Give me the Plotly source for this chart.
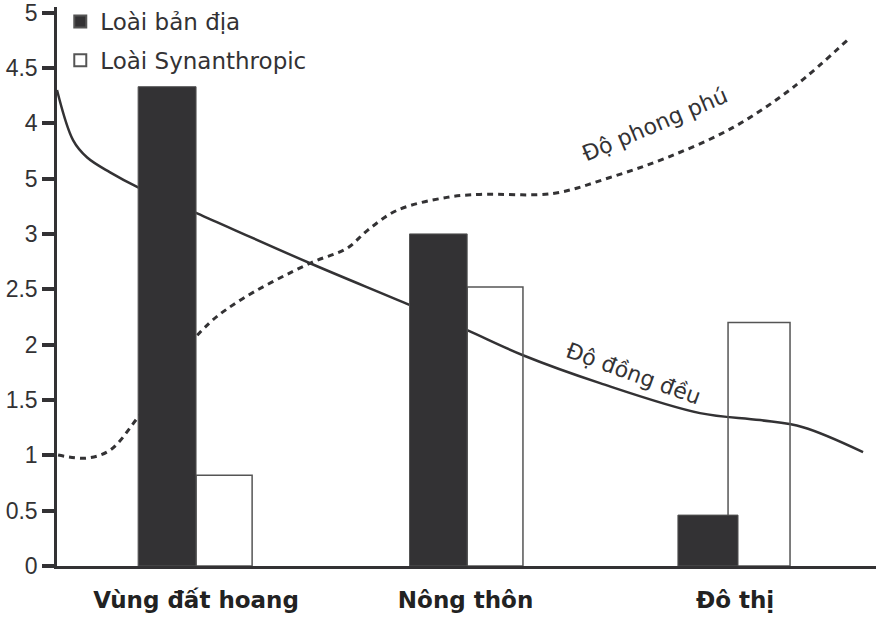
import plotly.graph_objects as go

# categories (numeric positions 0,1,2 on the x axis)
categories = ['Vùng đất hoang', 'Nông thôn', 'Đô thị']
cat_pos = [0, 1, 2]
native = [4.33, 3.0, 0.46]
synanthropic = [0.82, 2.52, 2.2]

# curves
evenness_x = [-0.516, -0.456, -0.404, -0.319, -0.215, 0.004, 0.423, 0.794,
              1.006, 1.213, 1.499, 1.870, 2.093, 2.252, 2.475]
evenness_y = [4.30, 3.845, 3.69, 3.556, 3.42, 3.186, 2.735, 2.356,
              2.13, 1.904, 1.652, 1.381, 1.318, 1.254, 1.029]

richness_x = [-0.512, -0.404, -0.319, -0.215, 0.015, 0.152, 0.423, 0.560, 0.635,
              0.746, 0.931, 1.054, 1.325, 1.536, 1.748, 1.993, 2.215, 2.427]
richness_y = [1.002, 0.975, 1.047, 1.345, 2.112, 2.383, 2.735, 2.87, 3.03,
              3.213, 3.33, 3.357, 3.366, 3.51, 3.69, 3.962, 4.323, 4.774]

tick_vals = [0, 0.5, 1, 1.5, 2, 2.5, 3, 3.5, 4, 4.5, 5]
# the original prints "5" at 3.5 as well
tick_text = ['0', '0.5', '1', '1.5', '2', '2.5', '3', '5', '4', '4.5', '5']

dark = '#333234'
font = 'Liberation Sans, Arial, sans-serif'
wide = 'DejaVu Sans, sans-serif'
xr = [-0.516, 2.523]
yr = [0, 5.05]

fig = go.Figure()

# lines go on the base axes, bars on an overlay so the dark bars cover them
fig.add_trace(go.Scatter(x=richness_x, y=richness_y, mode='lines', name='Độ phong phú',
                         line=dict(color=dark, width=3, dash='6px,5px', shape='spline'),
                         showlegend=False))
fig.add_trace(go.Scatter(x=evenness_x, y=evenness_y, mode='lines', name='Độ đồng đều',
                         line=dict(color=dark, width=2.5, shape='spline'),
                         showlegend=False))

fig.add_trace(go.Bar(x=cat_pos, y=synanthropic, name='Loài Synanthropic',
                     offset=[0, 0.006, -0.026], width=[0.208, 0.207, 0.23],
                     marker=dict(color='rgba(0,0,0,0)', line=dict(color='#555', width=1.5)),
                     xaxis='x2', yaxis='y2', legendrank=2, legendgroup='b'))
fig.add_trace(go.Bar(x=cat_pos, y=native, name='Loài bản địa',
                     offset=[-0.215, -0.208, -0.212], width=[0.215, 0.214, 0.223],
                     marker=dict(color=dark, line=dict(color='#555', width=1)),
                     xaxis='x2', yaxis='y2', legendrank=1, legendgroup='a'))

fig.add_annotation(x=1.703, y=3.99, text='Độ phong phú', showarrow=False, textangle=-23,
                   font=dict(size=22, color=dark, family=wide))
fig.add_annotation(x=1.622, y=1.742, text='Độ đồng đều', showarrow=False, textangle=20,
                   font=dict(size=22, color=dark, family=wide))

fig.update_layout(
    width=876, height=617,
    margin=dict(l=57, r=0, t=6, b=51),
    plot_bgcolor='white', paper_bgcolor='white',
    barmode='overlay',
    font=dict(family=font, color=dark, size=22),
    showlegend=True,
    legend=dict(x=0.004, y=1.012, xanchor='left', yanchor='top', bgcolor='rgba(0,0,0,0)',
                font=dict(size=23, color=dark, family=wide), tracegroupgap=6,
                itemsizing='constant'),
    xaxis=dict(range=xr, tickvals=cat_pos, ticktext=categories, showgrid=False,
               zeroline=False, showline=True, linecolor=dark, linewidth=2.5,
               ticks='', ticklabelstandoff=12, automargin=False, ticklabeloverflow='allow',
               tickfont=dict(size=23, family=wide, color='#222', weight='bold')),
    yaxis=dict(range=yr, tickvals=tick_vals, ticktext=tick_text, showgrid=False,
               zeroline=False, showline=True, linecolor=dark, linewidth=2.5,
               ticks='outside', ticklen=12, tickwidth=3.5, tickcolor=dark,
               automargin=False, ticklabeloverflow='allow',
               tickfont=dict(size=23, family=font, color=dark)),
    xaxis2=dict(range=xr, overlaying='x', visible=False),
    yaxis2=dict(range=yr, overlaying='y', visible=False),
)

fig.write_html('out.html', config={'displayModeBar': False},
               post_script="document.body.style.margin='0';")
